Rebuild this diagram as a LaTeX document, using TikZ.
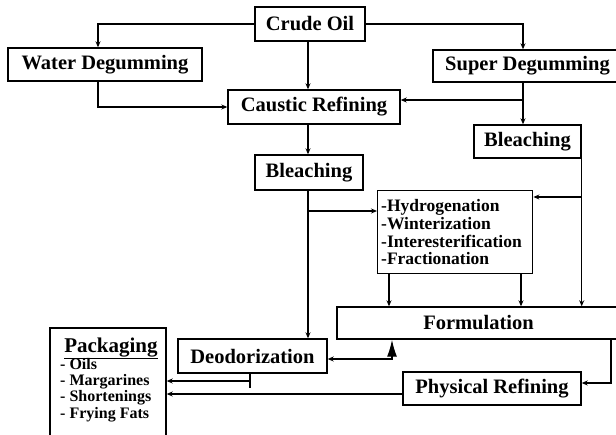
\documentclass[tikz,border=0pt]{standalone}
\usepackage{fontspec}
\setmainfont{Liberation Serif}
\usetikzlibrary{arrows.meta}
\begin{document}
\begin{tikzpicture}[x=1pt,y=-1pt,
  box/.style={draw, line width=1.4pt, inner sep=0pt, font=\bfseries\fontsize{20.5}{22}\selectfont},
  plain/.style={inner sep=0pt},
  listtext/.style={inner sep=0pt, anchor=base west, font=\bfseries\fontsize{16}{16}\selectfont},
  conn/.style={line width=1.4pt},
  arr/.style={conn, -{Stealth[length=6pt,width=5pt]}},
]
\useasboundingbox (0,0) rectangle (616,434);
% boxes
\node[box, minimum width=110pt, minimum height=34pt] (crude) at (310,24) {Crude Oil};
\node[box, minimum width=194pt, minimum height=33pt] (water) at (105,64.5) {Water Degumming};
\node[box, minimum width=185pt, minimum height=32pt] (super) at (525.5,66) {\hspace*{4pt}Super Degumming\hfill};
\node[box, minimum width=172pt, minimum height=34pt] (caustic) at (314,107) {Caustic Refining};
\node[box, minimum width=108pt, minimum height=35pt] (bleach1) at (309,172.5) {Bleaching};
\node[box, minimum width=107pt, minimum height=33pt] (bleach2) at (527.5,141.5) {Bleaching};
\node[draw, line width=1.4pt, anchor=north west, minimum height=83pt, text width=148pt,
      inner xsep=3.5pt, inner ysep=0pt, align=left,
      font=\bfseries\fontsize{17.5}{17.7}\selectfont] (hydro) at (377,190)
  {-Hydrogenation\\-Winterization\\-Interesterification\\-Fractionation};
\node[box, minimum width=283pt, minimum height=32pt] (formul) at (478.5,323) {Formulation};
\node[box, minimum width=149pt, minimum height=34pt] (deodor) at (252.5,356) {Deodorization};
\node[box, minimum width=178pt, minimum height=33pt] (phys) at (492,388.5) {Physical Refining};
\node[draw, line width=1.4pt, minimum width=116pt, minimum height=112pt] (pack) at (108,384) {};
\node[plain, anchor=base, font=\bfseries\fontsize{21}{22}\selectfont] (packtitle) at (111,352) {\underline{Packaging}};
\node[listtext] (oils) at (60,369) {- Oils};
\node[listtext] (marg) at (60,385) {- Margarines};
\node[listtext] (short) at (60,401) {- Shortenings};
\node[listtext] (fry) at (60,418) {- Frying Fats};
% helper coordinates
\coordinate (ax) at (308,0);
\coordinate (sx) at (523,0);
\coordinate (b1) at (308,211);
\coordinate (b2) at (523,100);
\coordinate (b3) at (581,197);
\coordinate (h1) at (389,0);
\coordinate (h2) at (521,0);
\coordinate (d1) at (392,359);
\coordinate (f1) at (611,383);
\coordinate (m1) at (250,381);
\coordinate (m2) at (250,388);
\coordinate (s1) at (0,394);
% connectors
\draw[arr] (crude.west) -| ([xshift=-7pt]water.north);
\draw[arr] ([xshift=-7pt]water.south) |- (caustic.west);
\draw[arr] (ax |- crude.south) -- (ax |- caustic.north);
\draw[arr] (ax |- caustic.south) -- (ax |- bleach1.north);
\draw[arr] (ax |- bleach1.south) -- (ax |- deodor.north);
\draw[arr] (b1) -- (b1 -| hydro.west);
\draw[arr] (crude.east) -| (sx |- super.north);
\draw[arr] (sx |- super.south) -- (sx |- bleach2.north);
\draw[arr] (b2) -- (b2 -| caustic.east);
\draw[arr] (bleach2.south east) -- (bleach2.south east |- formul.north);
\draw[arr] (b3) -- (b3 -| hydro.east);
\draw[arr] (h1 |- hydro.south) -- (h1 |- formul.north);
\draw[arr] (h2 |- hydro.south) -- (h2 |- formul.north);
\draw[arr] (d1) -- (d1 -| deodor.east);
\draw[conn, -{Latex[length=17pt,width=10pt]}] ([yshift=-0.7pt]d1) -- (d1 |- formul.south);
\draw[arr] (f1 |- formul.south) |- (f1 -| phys.east);
\draw[conn] (m1 |- deodor.south) -- (m2);
\draw[arr] (m1) -- (m1 -| pack.east);
\draw[arr] (s1 -| phys.west) -- (s1 -| pack.east);
\end{tikzpicture}
\end{document}
